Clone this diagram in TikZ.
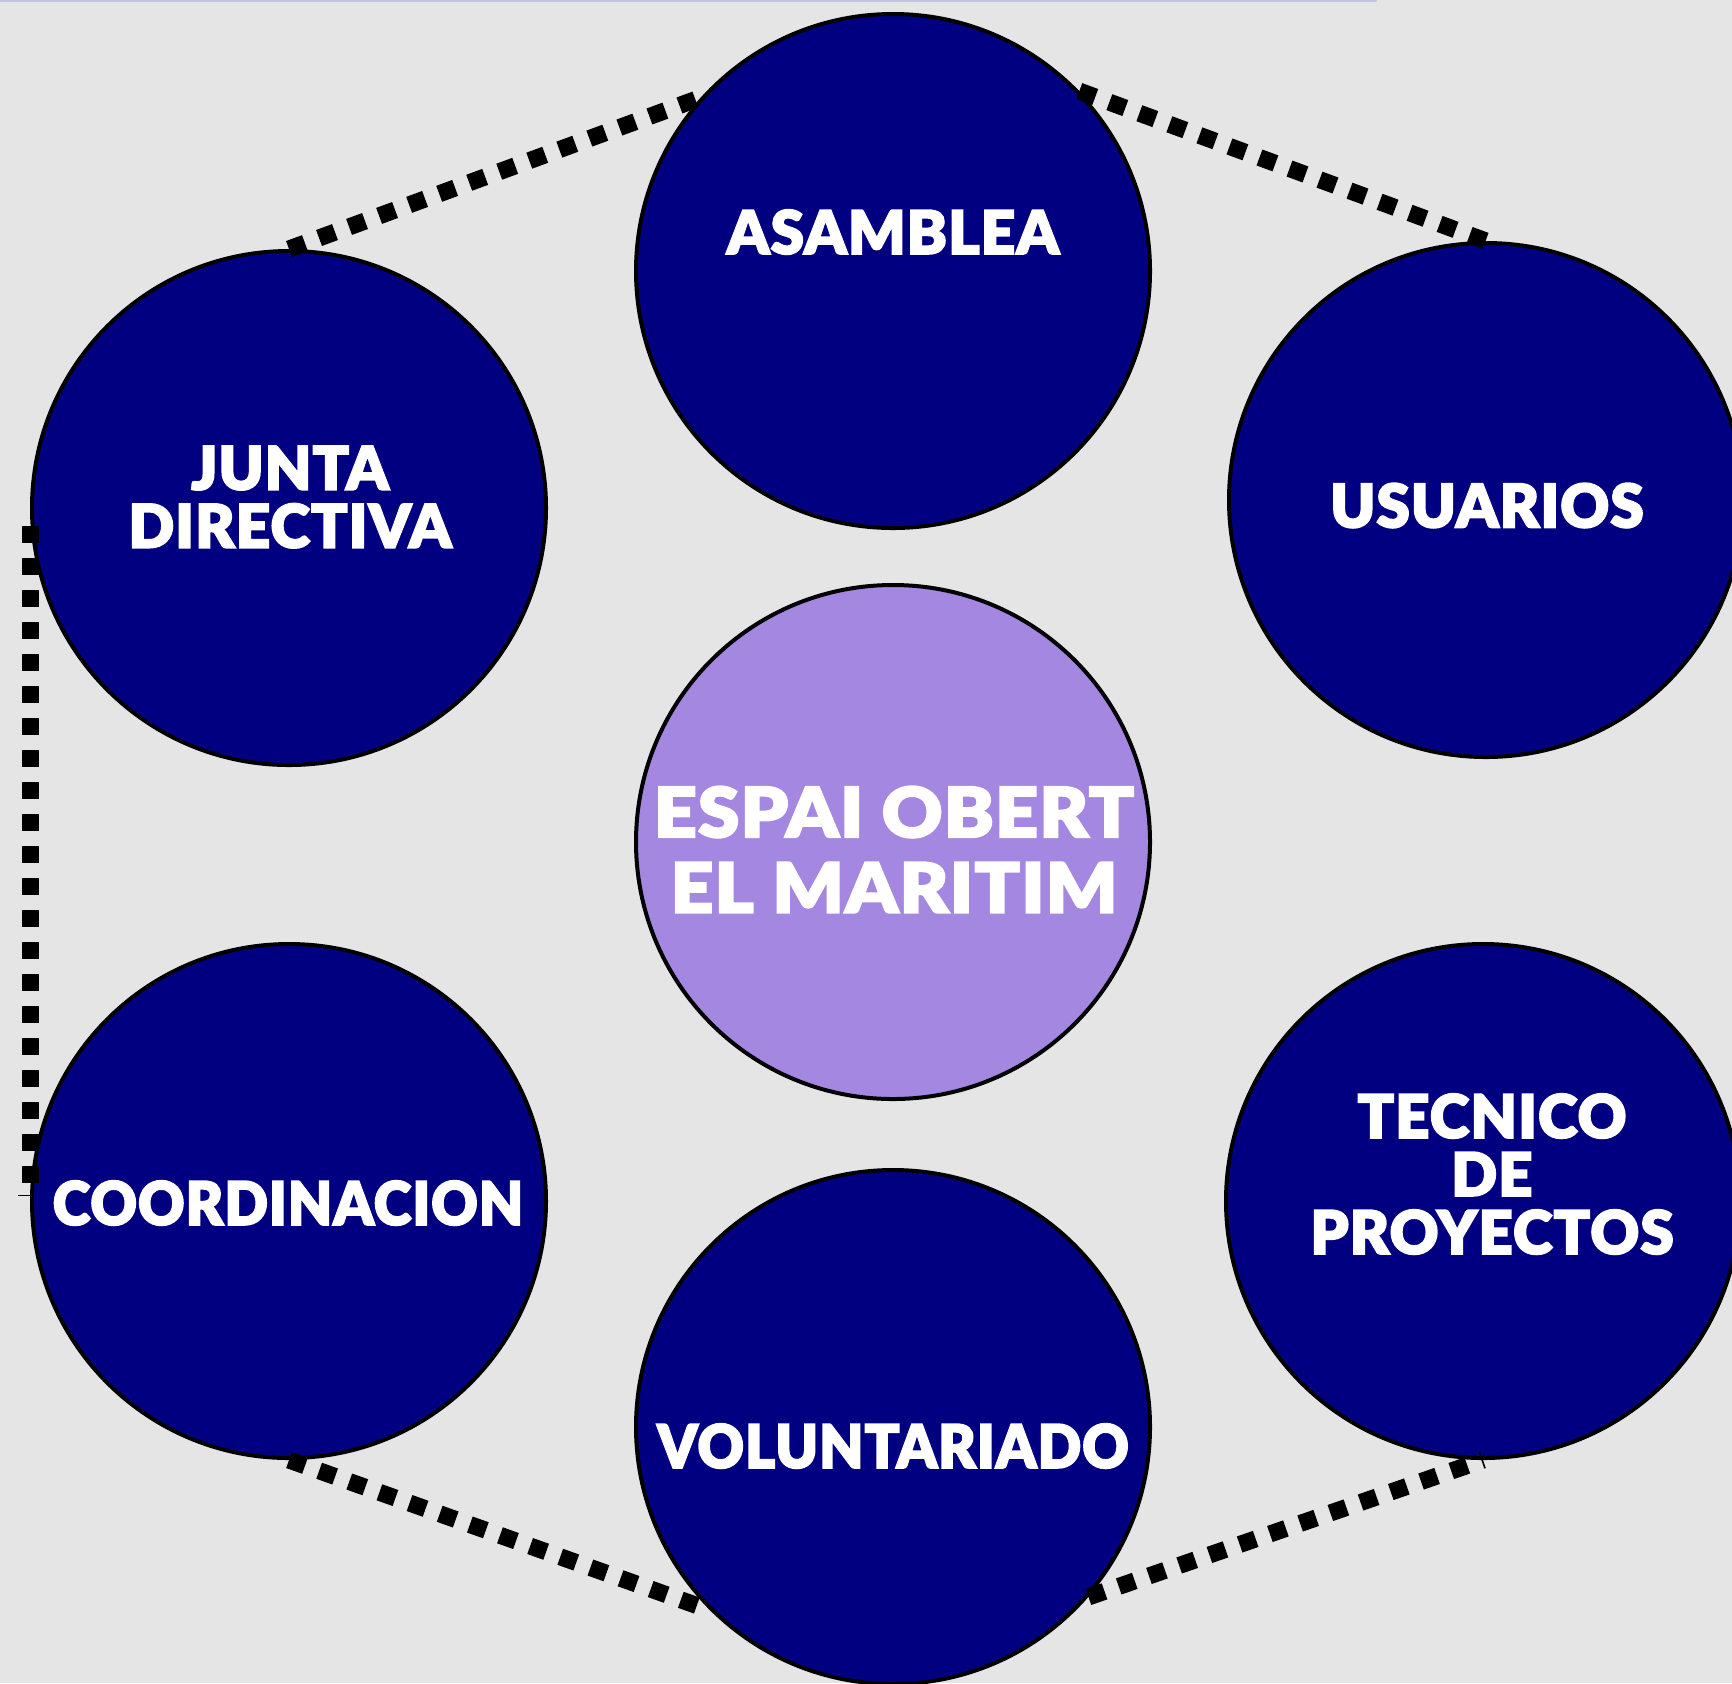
\documentclass[tikz,border=0pt]{standalone}
\usepackage{fontspec}
\newfontfamily\heavyfont{Lato Black}[FakeBold=3,LetterSpace=2]
\newfontfamily\heavywide{Lato Black}[FakeBold=3,LetterSpace=2,FakeStretch=1.08]
\newfontfamily\heavynarrow{Lato Black}[FakeBold=3,LetterSpace=2,FakeStretch=0.95]
\definecolor{navyfill}{HTML}{000080}
\definecolor{lilac}{HTML}{A387E0}
\definecolor{bggray}{HTML}{E5E5E5}
\definecolor{topedge}{HTML}{C5C5E0}

\begin{document}
\begin{tikzpicture}[x=0.5pt,y=-0.5pt,
  member/.style={circle,draw=black,line width=2pt,fill=navyfill,minimum size=257pt,inner sep=0pt},
  hub/.style={member,fill=lilac},
  tag/.style={text=white,align=center,inner sep=0pt,font=\heavyfont\fontsize{30}{29}\selectfont},
  longtag/.style={tag,font=\heavynarrow\fontsize{30}{29}\selectfont},
  bigtag/.style={tag,font=\heavywide\fontsize{34.5}{37.75}\selectfont},
  link/.style={line width=8.5pt,dash pattern=on 8.5pt off 7.5pt}]
\useasboundingbox (0,0) rectangle (1732,1683);
\clip (0,0) rectangle (1732,1683);
\fill [bggray] (0,0) rectangle (1732,1683);
\draw [topedge,line width=1pt] (0,1) -- (1377,1);
\node [member] (asamblea) at (893,271) {};
\node [member] (junta) at (289,508) {};
\node [member] (usuarios) at (1486,500) {};
\node [hub] (espai) at (893,842) {};
\node [member] (coord) at (289,1201) {};
\node [member] (tecnico) at (1483,1201) {};
\node [member] (volunt) at (893,1427) {};
\draw [link] (junta.north) -- (asamblea.138);
\draw [link] (asamblea.44) -- (usuarios.north);
\draw [link] (junta.184) -- (coord.176);
\draw [link] (coord.south) -- (volunt.225);
\draw [link] (volunt.319) -- (tecnico.south);
\coordinate (T1) at (18,1195);
\coordinate (T2) at (33,1195);
\draw [line width=0.5pt] (T1) -- (T2);
\node [tag] (asamblea-t) at ([shift={(0,-39)}]asamblea.center) {ASAMBLEA};
\node [tag] (junta-t) at ([shift={(1,-11)}]junta.center) {JUNTA\\DIRECTIVA};
\node [tag] (usuarios-t) at ([shift={(1,5.5)}]usuarios.center) {USUARIOS};
\node [bigtag] (espai-t) at ([shift={(1,7.5)}]espai.center) {ESPAI OBERT\\EL MARITIM};
\node [longtag] (coord-t) at ([shift={(-1,2)}]coord.center) {COORDINACION};
\node [tag] (tecnico-t) at ([shift={(9,-27)}]tecnico.center) {TECNICO\\DE\\PROYECTOS};
\node [longtag] (volunt-t) at ([shift={(0,19)}]volunt.center) {VOLUNTARIADO};
\end{tikzpicture}
\end{document}
